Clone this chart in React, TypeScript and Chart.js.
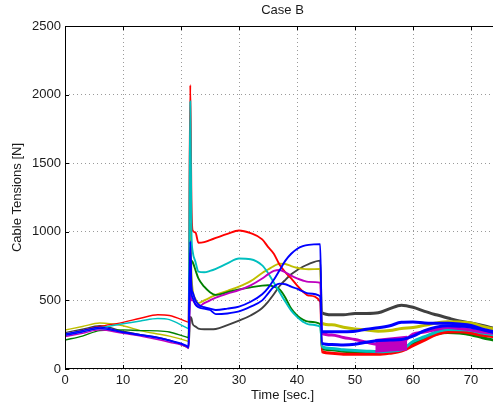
import React, { useEffect, useRef } from "react";
import { Chart, registerables } from "chart.js";

Chart.register(...registerables);

const chartTitle = "Case B";
const xTitle = "Time [sec.]";
const yTitle = "Cable Tensions [N]";

const times = [0,3,6,10,13,16,18,21,21.3,21.6,21.8,22,22.5,23,24,25,26,28,30,32,34,35,36,37,38,39,40,41,42,44,44.3,46,48,50,52,54,56,58,60,62,64,66,68,70,72,74];

const red = [250,280,310,340,370,395,390,345,340, 2070,1220,1010, 995,920,925,940,955, 985,1010,990,945, 890,840,760,705,660,610,565,535, 490,126, 115,108,107,107,107,115,130,170, 210,250,270,272,262,245,236];
const cyan = [250,275,300,330,350,368,360,300,295, 1950,1000,860, 780,710,705,715,730, 770,805,800,755, 700,630,560,490,425,380,345,325, 308,163, 150,140,135,130,126,130,140,200, 235,270,288,286,280,262,248];
const green = [211,240,280,285,280,278,270,232,230, 800,790,780, 720,660,600,560,540, 560,580,595,608, 610,600,580,520,440,390,360,345, 328,150, 140,130,125,125,125,130,145,180, 225,255,266,262,250,228,210];
const yellow = [284,310,335,315,280,255,240,205,200, 1060,700,580, 510,480,500,520,540, 570,600,640,700, 725,750,768,765,750,738,730,727, 729,333, 322,305,292,285,275,280,295,302, 318,335,345,342,335,310,290];
const magenta = [236,260,285,260,240,215,195,160,150, 550,500,500, 470,455,480,500,520, 550,575,610,660, 690,715,722,705,680,660,645,635, 629,260, 248,230,215,195,180,180,190,255, 270,288,302,295,285,270,260];
const blueA = [255,280,305,270,250,230,210,170,160, 930,600,560, 500,470,450,440,430, 440,455,490,545, 590,650,720,790,840,875,895,905, 910,272, 272,272,275,290,300,315,340,342, 336,333,333,328,318,290,272];
const blueB = [245,270,295,265,245,225,205,165,155, 850,560,520, 470,450,440,430,400, 405,420,455,500, 550,600,622,618,600,585,565,550, 530,187, 178,175,180,195,208,211,215,240, 280,305,315,312,305,285,265];
const gray = [265,290,315,275,250,230,210,160,155, 380,370,330, 310,295,290,290,292, 320,352,390,445, 490,545,605,650,690,720,745,765, 790,410, 395,395,405,405,410,440,465,450, 420,395,372,350,335,318,296];

const bandTimes = [53.5, 56, 59];
const bandUpper = [211, 222, 236];
const bandLower = [126, 135, 143];

const xTicks = [0, 10, 20, 30, 40, 50, 60, 70];
const yTicks = [0, 500, 1000, 1500, 2000, 2500];

const series = [
  { name: "blue A", values: blueA, color: "#0000ff" },
  { name: "blue B", values: blueB, color: "#0000ff" },
  { name: "magenta", values: magenta, color: "#bf00bf" },
  { name: "cyan", values: cyan, color: "#00bfbf" },
  { name: "red", values: red, color: "#ff0000" },
  { name: "green", values: green, color: "#008000" },
  { name: "yellow", values: yellow, color: "#bfbf00" },
  { name: "gray", values: gray, color: "#404040" },
];

const framePlugin = {
  id: "frame",
  afterDraw(chart: any) {
    const { ctx, chartArea } = chart;
    const { left, top, right, bottom } = chartArea;
    ctx.save();
    ctx.strokeStyle = "#000";
    ctx.lineWidth = 1;
    ctx.beginPath();
    ctx.moveTo(left + 0.5, top + 0.5);
    ctx.lineTo(right - 0.5, top + 0.5);
    ctx.lineTo(right - 0.5, bottom - 0.5);
    ctx.lineTo(left + 0.5, bottom - 0.5);
    ctx.closePath();
    ctx.stroke();
    const xs = chart.scales.x;
    const ys = chart.scales.y;
    ctx.beginPath();
    xTicks.forEach((v) => {
      const px = Math.round(xs.getPixelForValue(v)) + 0.5;
      ctx.moveTo(px, bottom);
      ctx.lineTo(px, bottom - 4);
      ctx.moveTo(px, top);
      ctx.lineTo(px, top + 4);
    });
    yTicks.forEach((v) => {
      const py = Math.round(ys.getPixelForValue(v)) + 0.5;
      ctx.moveTo(left, py);
      ctx.lineTo(left + 4, py);
      ctx.moveTo(right, py);
      ctx.lineTo(right - 4, py);
    });
    ctx.stroke();
    ctx.restore();
  },
};

export default function App() {
  const ref = useRef<HTMLCanvasElement | null>(null);
  useEffect(() => {
    if (!ref.current) return;
    Chart.defaults.font.family = "'Liberation Sans', Arial, Helvetica, sans-serif";
    Chart.defaults.font.size = 13;
    Chart.defaults.color = "#1a1a1a";
    const widthFor = (c: any) => {
      const x = c.p0.parsed.x;
      if (x >= 44.3) return 3;
      if (x >= 21.3) return 1.9;
      return 1.4;
    };
    const datasets: any[] = series.map((s) => ({
      label: s.name,
      data: times.map((t, i) => ({ x: t, y: s.values[i] })),
      borderColor: s.color,
      backgroundColor: s.color,
      borderWidth: 1.5,
      pointRadius: 0,
      cubicInterpolationMode: "monotone",
      segment: { borderWidth: widthFor },
      fill: false,
    }));
    const bandIdx = 3;
    datasets.splice(bandIdx, 0,
      {
        label: "band lower",
        data: bandTimes.map((t, i) => ({ x: t, y: bandLower[i] })),
        borderColor: "#bf00bf",
        backgroundColor: "#bf00bf",
        borderWidth: 2,
        pointRadius: 0,
        fill: false,
      },
      {
        label: "band upper",
        data: bandTimes.map((t, i) => ({ x: t, y: bandUpper[i] })),
        borderColor: "#bf00bf",
        backgroundColor: "#bf00bf",
        borderWidth: 2,
        pointRadius: 0,
        fill: "-1",
      }
    );
    const chart = new Chart(ref.current, {
      type: "line",
      data: { datasets },
      plugins: [framePlugin],
      options: {
        responsive: false,
        animation: false,
        devicePixelRatio: 1,
        layout: { padding: 0 },
        plugins: {
          legend: { display: false },
          tooltip: { enabled: false },
          title: {
            display: true,
            text: chartTitle,
            fullSize: false,
            color: "#1a1a1a",
            font: { size: 13, weight: "normal" },
            padding: { top: 3, bottom: 7.4 },
          },
        },
        scales: {
          x: {
            type: "linear",
            min: 0,
            max: 75,
            afterFit: (s: any) => { s.height = 38; },
            ticks: { stepSize: 10, includeBounds: false, padding: 4, maxRotation: 0, color: "#1a1a1a", callback: (v: any) => String(v) },
            grid: { color: "#9a9a9a", lineWidth: 1, drawTicks: false },
            border: { display: false, dash: [1, 3] },
            title: { display: true, text: xTitle, padding: { top: 0, bottom: 4 }, color: "#1a1a1a" },
          },
          y: {
            type: "linear",
            min: 0,
            max: 2500,
            afterFit: (s: any) => { s.width = 65; },
            ticks: { stepSize: 500, padding: 4, color: "#1a1a1a", callback: (v: any) => String(v) },
            grid: { color: "#9a9a9a", lineWidth: 1, drawTicks: false },
            border: { display: false, dash: [1, 3] },
            title: { display: true, text: yTitle, padding: { top: 10, bottom: 0 }, color: "#1a1a1a" },
          },
        },
      },
    });
    return () => chart.destroy();
  }, []);
  return (
    <div style={{ position: "fixed", left: 0, top: 0, width: 493, height: 407, overflow: "hidden", background: "#fff" }}>
      <canvas ref={ref} width={500} height={407} style={{ width: 500, height: 407, display: "block" }} />
    </div>
  );
}
